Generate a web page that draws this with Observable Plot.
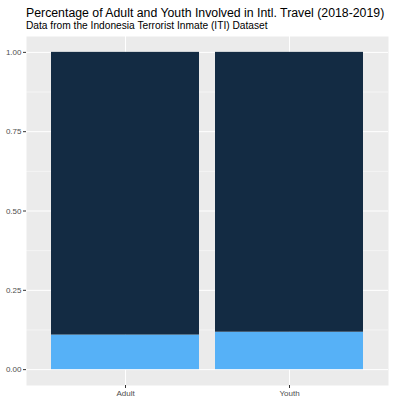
<!DOCTYPE html>
<html>
<head>
<meta charset="utf-8">
<script src="https://cdn.jsdelivr.net/npm/d3@7"></script>
<script src="https://cdn.jsdelivr.net/npm/@observablehq/plot@0.6"></script>
<style>
  html, body { margin: 0; padding: 0; background: white; }
  #wrap { position: relative; width: 393px; height: 402px; font-family: "Liberation Sans", Arial, sans-serif; }
  #header { position: relative; height: 34px; }
  #title { position: absolute; left: 26px; top: 7px; font-size: 12.3px; line-height: 12.3px; color: #000; white-space: nowrap; }
  #subtitle { position: absolute; left: 26px; top: 21px; font-size: 10.2px; line-height: 10.2px; color: #000; white-space: nowrap; }
  svg { display: block; }
</style>
</head>
<body>
<div id="wrap">
  <div id="header">
    <div id="title">Percentage of Adult and Youth Involved in Intl. Travel (2018-2019)</div>
    <div id="subtitle">Data from the Indonesia Terrorist Inmate (ITI) Dataset</div>
  </div>
  <div id="chart"></div>
</div>
<script>
const categories = ["Adult", "Youth"];
const groups = ["Intl. travel", "No intl. travel"];
const travelShare = [0.109, 0.118];
const noTravelShare = [0.891, 0.882];
const yTicks = [0, 0.25, 0.5, 0.75, 1];
const yMinorTicks = [0.125, 0.375, 0.625, 0.875];
const fillColors = ["#56B1F7", "#132B43"];

const rows = [];
categories.forEach((c, i) => {
  rows.push({age: c, group: groups[0], share: travelShare[i]});
});
categories.forEach((c, i) => {
  rows.push({age: c, group: groups[1], share: noTravelShare[i]});
});

const chart = Plot.plot({
  width: 393,
  height: 368,
  marginLeft: 26,
  marginRight: 5,
  marginTop: 2,
  marginBottom: 17,
  style: {background: "white", fontFamily: "'Liberation Sans', Arial, sans-serif", fontSize: "8px"},
  x: {type: "band", domain: categories, paddingInner: 0.1, paddingOuter: 0.147, label: null},
  y: {domain: [-0.05, 1.05], label: null},
  color: {domain: groups, range: fillColors},
  marks: [
    Plot.frame({fill: "#EBEBEB", stroke: null}),
    Plot.gridY(yMinorTicks, {stroke: "white", strokeOpacity: 1, strokeWidth: 0.5}),
    Plot.gridY(yTicks, {stroke: "white", strokeOpacity: 1, strokeWidth: 1}),
    Plot.gridX(categories, {stroke: "white", strokeOpacity: 1, strokeWidth: 1}),
    Plot.barY(rows, {x: "age", y: "share", fill: "group"}),
    Plot.axisY(yTicks, {tickSize: 3, tickPadding: 2, stroke: "#333333", fill: "#4D4D4D", tickFormat: d => d.toFixed(2), label: null}),
    Plot.axisX(categories, {tickSize: 3, tickPadding: 2, stroke: "#333333", fill: "#4D4D4D", label: null})
  ]
});
document.getElementById("chart").appendChild(chart);
</script>
</body>
</html>
